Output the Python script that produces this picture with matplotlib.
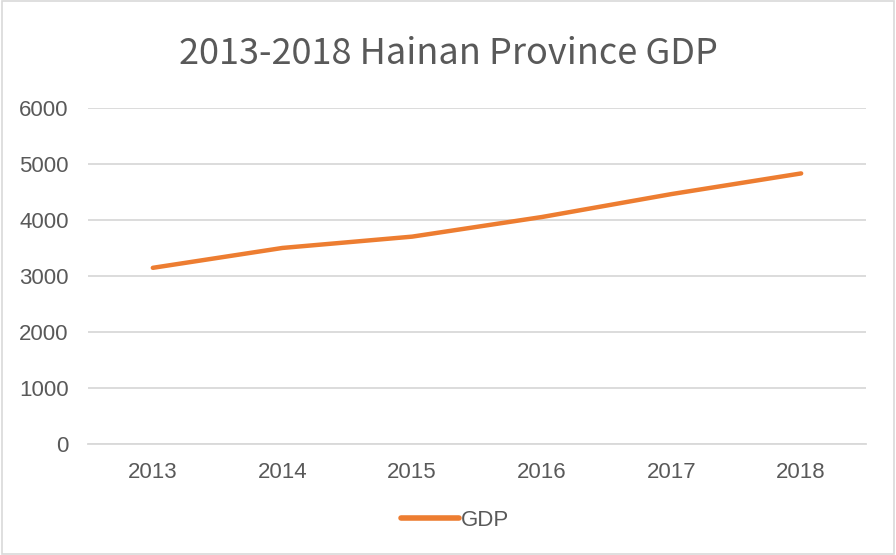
import matplotlib
matplotlib.use("Agg")
import matplotlib.pyplot as plt

# data
years = ["2013", "2014", "2015", "2016", "2017", "2018"]
gdp = [3146, 3501, 3703, 4053, 4463, 4832]
yticks = [0, 1000, 2000, 3000, 4000, 5000, 6000]

txt = "#595959"

fig = plt.figure(figsize=(8.96, 5.55), dpi=100)
ax = fig.add_axes([0.0982, 0.2, 0.8683, 0.6054])

x = range(len(years))
ax.plot(x, gdp, color="#ED7D31", linewidth=3.2, solid_capstyle="round", label="GDP")

ax.set_xlim(-0.5, len(years) - 0.5)
ax.set_ylim(0, 6000)
ax.set_yticks(yticks)
ax.set_xticks(list(x))
ax.set_xticklabels(years)
ax.grid(True, axis="y", color="#D9D9D9", linewidth=1.3)
ax.set_axisbelow(True)
for s in ["top", "right", "left"]:
    ax.spines[s].set_visible(False)
ax.spines["bottom"].set_color("#D9D9D9")
ax.spines["bottom"].set_linewidth(1.3)
ax.tick_params(length=0, labelsize=16, labelcolor=txt)
ax.tick_params(axis="x", pad=13)
ax.tick_params(axis="y", pad=14)
for lab in ax.get_xticklabels() + ax.get_yticklabels():
    lab.set_family(["Liberation Sans", "DejaVu Sans"])

fig.suptitle("2013-2018 Hainan Province GDP", y=0.935, fontsize=26, color=txt,
             family=["Noto Sans CJK SC", "DejaVu Sans"], fontweight="light")

leg = fig.legend(loc="center", bbox_to_anchor=(0.508, 0.063), frameon=False,
                 prop={"family": ["Liberation Sans", "DejaVu Sans"], "size": 16},
                 handlelength=2.6, handletextpad=0.1)
for t in leg.get_texts():
    t.set_color(txt)
for l in leg.get_lines():
    l.set_linewidth(4)

# outer border
fig.patches.append(plt.Rectangle((0.002, 0.002), 0.996, 0.996, transform=fig.transFigure,
                                 fill=False, edgecolor="#D9D9D9", linewidth=1.2))

fig.savefig("out.png", dpi=100)
